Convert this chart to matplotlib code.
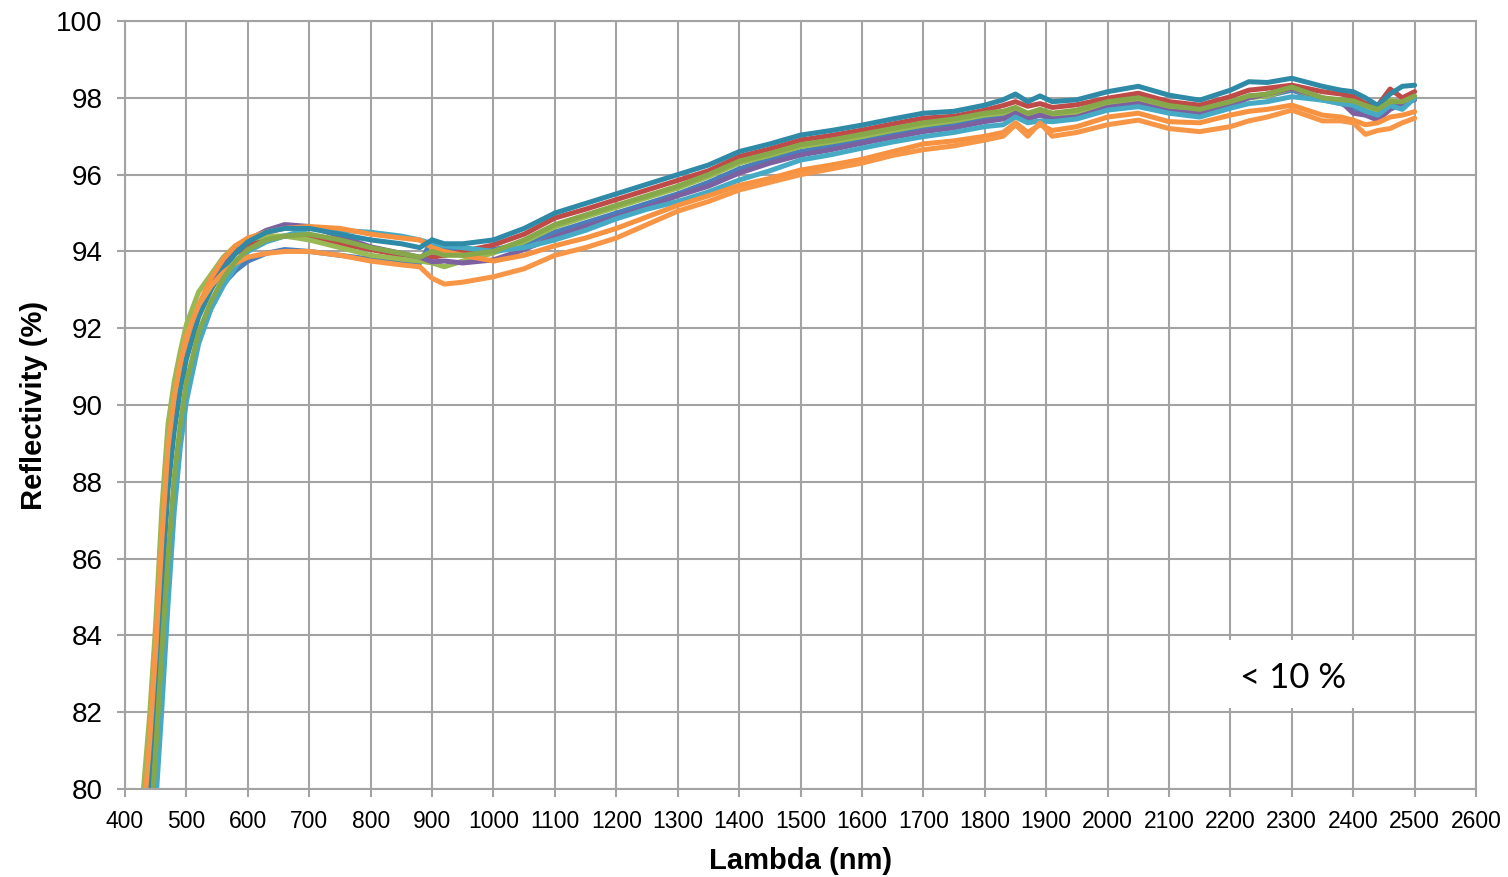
import matplotlib
matplotlib.use("Agg")
import matplotlib.pyplot as plt
from matplotlib.patches import Rectangle

# Wavelength sampling (nm) shared by all reflectivity spectra
wavelength = [430, 440, 450, 460, 470, 480, 490, 500, 520, 540, 560, 580, 600,
              630, 660, 700, 750, 800, 850, 880, 900, 920, 950, 1000,
              1050, 1100, 1150, 1200, 1250, 1300, 1350, 1400, 1450, 1500, 1550,
              1600, 1650, 1700, 1750, 1800,
              1830, 1850, 1870, 1890, 1910, 1950,
              2000, 2050, 2100, 2150, 2200,
              2230, 2260, 2300, 2350, 2380, 2400, 2420, 2440, 2460, 2480, 2500]

# Reflectivity (%) of each measured sample
refl_blue = [75.5, 78.0, 80.5, 83.0, 85.6, 87.8, 89.3, 90.4, 91.8, 92.6, 93.15, 93.5, 93.75,
             93.95, 94.05, 94.0, 93.9, 93.8, 93.75, 93.7, 94.3, 94.1, 94.0, 94.05,
             94.2, 94.5, 94.75, 95.0, 95.25, 95.5, 95.8, 96.15, 96.4, 96.6, 96.75,
             96.9, 97.05, 97.2, 97.3, 97.45,
             97.5, 97.65, 97.5, 97.6, 97.5, 97.55,
             97.8, 97.9, 97.7, 97.62, 97.85,
             98.05, 98.05, 98.2, 97.95, 97.85, 97.75, 97.6, 97.5, 97.85, 97.9, 98.0]
refl_red = [78.0, 80.9, 83.4, 86.0, 88.4, 89.8, 90.8, 91.5, 92.5, 93.15, 93.6, 93.95, 94.15,
            94.35, 94.4, 94.35, 94.2, 94.05, 93.9, 93.8, 93.85, 93.9, 94.0, 94.17,
            94.45, 94.87, 95.1, 95.35, 95.6, 95.85, 96.1, 96.47, 96.67, 96.9, 97.02,
            97.16, 97.32, 97.47, 97.52, 97.68,
            97.8, 97.9, 97.78, 97.85, 97.75, 97.82,
            97.99, 98.12, 97.9, 97.81, 98.03,
            98.2, 98.25, 98.33, 98.16, 98.1, 98.03, 97.85, 97.8, 98.23, 98.0, 98.16]
refl_green = [80.0, 81.9, 84.3, 87.3, 89.5, 90.6, 91.4, 92.1, 92.95, 93.4, 93.85, 94.15, 94.3,
              94.4, 94.4, 94.3, 94.1, 93.9, 93.8, 93.75, 93.7, 93.6, 93.75, 93.96,
              94.25, 94.64, 94.9, 95.15, 95.4, 95.65, 95.95, 96.3, 96.5, 96.73, 96.85,
              96.99, 97.15, 97.29, 97.4, 97.55,
              97.6, 97.7, 97.55, 97.65, 97.55, 97.62,
              97.86, 97.94, 97.73, 97.65, 97.86,
              98.0, 98.05, 98.25, 97.95, 97.9, 97.9, 97.75, 97.6, 97.95, 97.85, 97.99]
refl_purple = [77.5, 80.6, 83.0, 85.5, 88.0, 89.5, 90.6, 91.3, 92.4, 93.1, 93.6, 94.05, 94.3,
               94.55, 94.7, 94.65, 94.4, 94.12, 93.95, 93.85, 93.73, 93.75, 93.7, 93.78,
               94.05, 94.38, 94.65, 94.9, 95.15, 95.45, 95.7, 96.04, 96.3, 96.51, 96.65,
               96.82, 96.97, 97.12, 97.22, 97.38,
               97.45, 97.6, 97.45, 97.55, 97.45, 97.5,
               97.75, 97.85, 97.65, 97.6, 97.8,
               98.0, 98.1, 98.25, 98.0, 97.9, 97.6, 97.55, 97.42, 97.7, 97.85, 97.95]
refl_aqua = [74.5, 77.2, 79.6, 82.1, 84.8, 87.2, 88.9, 90.1, 91.6, 92.5, 93.1, 93.6, 94.0,
             94.25, 94.4, 94.6, 94.55, 94.5, 94.4, 94.3, 94.2, 94.15, 94.1, 94.0,
             94.1, 94.3, 94.55, 94.85, 95.1, 95.3, 95.55, 95.86, 96.1, 96.38, 96.52,
             96.69, 96.85, 96.99, 97.1, 97.25,
             97.3, 97.5, 97.35, 97.4, 97.38, 97.45,
             97.68, 97.77, 97.6, 97.5, 97.73,
             97.85, 97.9, 98.03, 97.94, 97.85, 97.81, 97.65, 97.55, 97.8, 97.7, 97.99]
refl_orange = [78.5, 81.3, 83.8, 86.4, 88.7, 90.0, 90.9, 91.6, 92.6, 93.3, 93.8, 94.15, 94.35,
               94.5, 94.6, 94.65, 94.6, 94.45, 94.35, 94.3, 94.1, 94.0, 93.9, 93.75,
               93.9, 94.15, 94.35, 94.6, 94.9, 95.2, 95.45, 95.72, 95.9, 96.12, 96.25,
               96.4, 96.6, 96.8, 96.88, 97.0,
               97.1, 97.35, 97.1, 97.3, 97.15, 97.25,
               97.5, 97.6, 97.38, 97.35, 97.55,
               97.65, 97.7, 97.81, 97.55, 97.5, 97.42, 97.3, 97.35, 97.5, 97.55, 97.64]
refl_teal = [77.2, 80.3, 82.8, 85.3, 87.8, 89.3, 90.4, 91.2, 92.3, 93.0, 93.55, 93.95, 94.25,
             94.5, 94.6, 94.6, 94.45, 94.3, 94.2, 94.1, 94.3, 94.2, 94.2, 94.3,
             94.6, 95.0, 95.25, 95.5, 95.75, 96.0, 96.25, 96.6, 96.8, 97.03, 97.15,
             97.29, 97.45, 97.6, 97.65, 97.81,
             97.95, 98.1, 97.9, 98.05, 97.9, 97.95,
             98.16, 98.3, 98.07, 97.94, 98.2,
             98.42, 98.4, 98.51, 98.3, 98.2, 98.16, 98.0, 97.8, 98.1, 98.3, 98.33]
refl_orange_low = [79.2, 81.2, 83.6, 86.5, 88.9, 90.2, 91.1, 91.8, 92.6, 93.1, 93.45, 93.7, 93.85,
                   93.95, 94.0, 94.0, 93.9, 93.75, 93.65, 93.6, 93.3, 93.15, 93.2, 93.34,
                   93.55, 93.9, 94.1, 94.35, 94.7, 95.05, 95.3, 95.6, 95.8, 96.0, 96.15,
                   96.3, 96.5, 96.65, 96.75, 96.9,
                   97.0, 97.3, 97.0, 97.35, 97.0, 97.1,
                   97.3, 97.42, 97.2, 97.12, 97.25,
                   97.4, 97.5, 97.68, 97.4, 97.4, 97.35, 97.05, 97.15, 97.2, 97.35, 97.47]
refl_olive = [75.8, 78.5, 81.0, 83.6, 86.0, 88.1, 89.5, 90.6, 91.9, 92.7, 93.3, 93.75, 94.05,
              94.3, 94.4, 94.45, 94.3, 94.1, 93.95, 93.85, 94.0, 93.9, 93.9, 94.0,
              94.3, 94.7, 94.95, 95.2, 95.45, 95.7, 96.0, 96.35, 96.55, 96.78, 96.9,
              97.05, 97.2, 97.35, 97.45, 97.6,
              97.65, 97.75, 97.6, 97.7, 97.6, 97.68,
              97.9, 98.0, 97.8, 97.7, 97.9,
              98.05, 98.1, 98.28, 98.0, 97.95, 97.92, 97.8, 97.7, 97.9, 97.9, 98.05]

series = [
    (refl_blue, "#4A7EBB"),
    (refl_red, "#BE4B48"),
    (refl_green, "#98B954"),
    (refl_purple, "#7D60A0"),
    (refl_aqua, "#46AAC5"),
    (refl_orange, "#F69240"),
    (refl_teal, "#2E8AA6"),
    (refl_orange_low, "#F79646"),
    (refl_olive, "#86A84A"),
]

x_ticks = list(range(400, 2601, 100))
y_ticks = list(range(80, 101, 2))

grid_color = "#A3A3A3"

fig = plt.figure(figsize=(15.08, 8.77), dpi=100)
ax = fig.add_axes([0.0829, 0.1003, 0.8959, 0.8757])

for values, color in series:
    ax.plot(wavelength, values, color=color, linewidth=3.6,
            solid_capstyle="round", solid_joinstyle="round", zorder=2)

ax.set_xlim(400, 2600)
ax.set_ylim(80, 100)
ax.set_xticks(x_ticks)
ax.set_yticks(y_ticks)
ax.set_xticklabels([str(t) for t in x_ticks], fontsize=16.5, family="Liberation Sans")
ax.set_yticklabels([str(t) for t in y_ticks], fontsize=20, family="Liberation Sans")
ax.grid(True, color=grid_color, linewidth=1.5, zorder=1)
ax.set_axisbelow(True)
ax.tick_params(axis="both", direction="out", length=6, width=1.5,
               color=grid_color)
ax.tick_params(axis="x", pad=9)
ax.tick_params(axis="y", pad=10)
for spine in ax.spines.values():
    spine.set_color(grid_color)
    spine.set_linewidth(1.5)

ax.set_xlabel("Lambda (nm)", fontsize=21, fontweight="bold",
              family="Liberation Sans", labelpad=10)
ax.set_ylabel("Reflectivity (%)", fontsize=21, fontweight="bold",
              family="Liberation Sans", labelpad=6)

# White label panel in the lower right
ax.add_patch(Rectangle((2120, 82.12), 365, 1.76, facecolor="white",
                       edgecolor="none", zorder=3))
ax.text(2302, 82.9, "< 10 %", fontsize=25, family="Lato",
        ha="center", va="center", zorder=4)

fig.savefig("out.png", dpi=100)
